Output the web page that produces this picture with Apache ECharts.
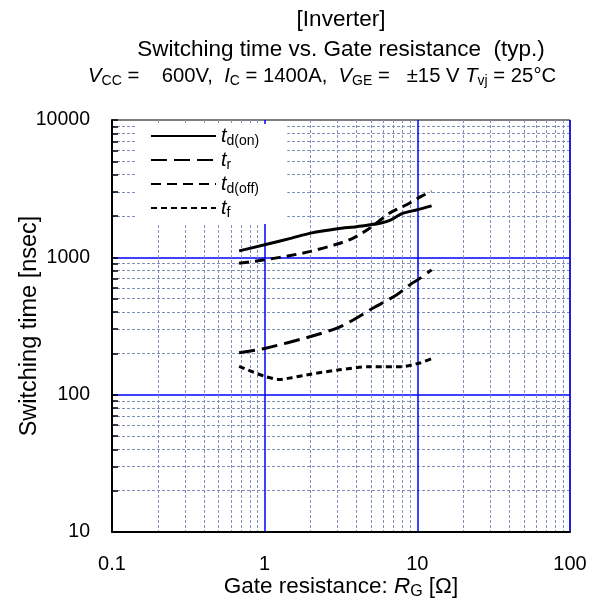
<!DOCTYPE html>
<html>
<head>
<meta charset="utf-8">
<script src="https://cdn.jsdelivr.net/npm/echarts@6/dist/echarts.min.js"></script>
<style>html,body{margin:0;padding:0;background:#fff;}#c{width:597px;height:599px;}</style>
</head>
<body>
<div id="c"></div>
<script>
// ---- data ----
const seriesNames = ['td(on)', 'tr', 'td(off)', 'tf'];
const rTdOn  = [0.68, 1.0, 1.5, 2.0, 3.0, 4.0, 4.9, 5.8, 6.6, 8.0, 10.0, 12.4];
const vTdOn  = [1115, 1234, 1380, 1500, 1615, 1670, 1725, 1780, 1857, 2090, 2220, 2370];
const rTr    = [0.68, 1.0, 2.0, 3.0, 3.8, 5.1, 7.3, 9.1, 10.3, 12.4];
const vTr    = [202, 217, 265, 306, 350, 426, 532, 641, 697, 811];
const rTdOff = [0.68, 1.0, 1.5, 2.0, 3.0, 3.8, 4.9, 6.6, 8.5, 10.6, 12.4];
const vTdOff = [907, 959, 1035, 1105, 1250, 1380, 1634, 2102, 2416, 2780, 3020];
const rTf    = [0.68, 1.0, 1.25, 1.5, 2.0, 3.0, 4.9, 7.9, 10.4, 12.4];
const vTf    = [161, 136, 129, 133, 141, 151, 160, 160, 170, 183];
const xTicks = [0.1, 1, 10, 100];
const yTicks = [10, 100, 1000, 10000];

const FONT = "'Liberation Sans', Arial, sans-serif";
const pair = (r, v) => r.map((x, i) => [x, v[i]]);
const subRich = {
  n: { fontSize: 20.3, fontFamily: FONT, color: '#000' },
  i: { fontSize: 20.3, fontFamily: FONT, fontStyle: 'italic', color: '#000' },
  s: { fontSize: 14, fontFamily: FONT, color: '#000', padding: [10, 0, 0, 0] }
};
const legendLabel = {
  'td(on)': '{t|t}{s|d(on)}',
  'tr': '{t|t}{s|r}',
  'td(off)': '{t|t}{s|d(off)}',
  'tf': '{t|t}{s|f}'
};
const dashes = { 'td(on)': 'solid', 'tr': [16, 7], 'td(off)': [10, 6], 'tf': [6, 4] };
const dataMap = {
  'td(on)': pair(rTdOn, vTdOn),
  'tr': pair(rTr, vTr),
  'td(off)': pair(rTdOff, vTdOff),
  'tf': pair(rTf, vTf)
};

const chart = echarts.init(document.getElementById('c'), null, { renderer: 'canvas' });
const series = seriesNames.map(n => ({
  name: n,
  type: 'line',
  data: dataMap[n],
  symbol: 'none',
  smooth: 0.25,
  lineStyle: { color: '#000', width: 3, type: dashes[n] },
  itemStyle: { color: '#000' },
  z: 5
}));

chart.setOption({
  animation: false,
  backgroundColor: '#fff',
  title: [
    { text: '[Inverter]', left: 336, top: 3, textAlign: 'center',
      textStyle: { fontSize: 22.5, fontWeight: 'normal', fontFamily: FONT, color: '#000' } },
    { text: 'Switching time vs. Gate resistance  (typ.)', left: 336, top: 33, textAlign: 'center',
      textStyle: { fontSize: 22.5, fontWeight: 'normal', fontFamily: FONT, color: '#000' } },
    { text: '{i|V}{s|CC}{n| =    600V,  }{i|I}{s|C}{n| = 1400A,  }{i|V}{s|GE}{n| =   ±15 V }{i|T}{s|vj}{n| = 25°C}',
      left: 83, top: 59,
      textStyle: { fontSize: 20.3, fontWeight: 'normal', fontFamily: FONT, color: '#000', rich: subRich } }
  ],
  grid: { left: 112, right: 27, top: 120, bottom: 67, outerBoundsMode: 'none', containLabel: false,
          show: true, borderColor: '#000', borderWidth: 1, backgroundColor: 'transparent' },
  legend: {
    data: seriesNames,
    orient: 'vertical',
    left: 135, top: 124,
    backgroundColor: '#fff',
    padding: [2, 28, 4, 15],
    itemWidth: 65, itemHeight: 20, itemGap: 2,
    itemStyle: { opacity: 0, color: 'transparent', borderWidth: 0 },
    formatter: n => legendLabel[n],
    textStyle: {
      rich: {
        t: { fontSize: 20, fontStyle: 'italic', fontFamily: FONT, color: '#000' },
        s: { fontSize: 14, fontFamily: FONT, color: '#000', padding: [10, 0, 0, 0] }
      }
    }
  },
  xAxis: {
    type: 'log', logBase: 10, min: 0.1, max: 100,
    name: '{n|Gate resistance: }{i|R}{s|G}{n| [Ω]}',
    nameLocation: 'middle', nameGap: 42, nameMoveOverlap: false,
    nameTextStyle: { rich: { n: { fontSize: 22.5, fontFamily: FONT, color: '#000' }, i: { fontSize: 22.5, fontFamily: FONT, fontStyle: 'italic', color: '#000' }, s: { fontSize: 16, fontFamily: FONT, color: '#000', padding: [10, 0, 0, 0] } } },
    axisLine: { show: true, onZero: false, lineStyle: { color: '#000', width: 2 } },
    axisTick: { show: false },
    axisLabel: { fontSize: 20, fontFamily: FONT, color: '#000', margin: 22,
      formatter: v => String(xTicks.find(t => Math.abs(Math.log10(t) - Math.log10(v)) < 1e-6) ?? v) },
    splitLine: { show: true, showMinLine: false, lineStyle: { color: '#0000ff', width: 1.5 } },
    minorTick: { show: false, splitNumber: 9 },
    minorSplitLine: { show: true, lineStyle: { color: '#7f8fb8', width: 1, type: [3, 2] } }
  },
  yAxis: {
    type: 'log', logBase: 10, min: 10, max: 10000,
    name: 'Switching time [nsec]',
    nameLocation: 'middle', nameGap: 70, nameRotate: 90, nameMoveOverlap: false,
    nameTextStyle: { fontSize: 23.5, fontFamily: FONT, color: '#000' },
    axisLine: { show: true, onZero: false, lineStyle: { color: '#000', width: 2 } },
    axisTick: { show: true, inside: true, length: 6, lineStyle: { color: '#000', width: 1.5 } },
    minorTick: { show: true, splitNumber: 9, length: 6, lineStyle: { color: '#000', width: 1.5 } },
    axisLabel: { fontSize: 19.5, fontFamily: FONT, color: '#000', margin: 22,
      formatter: v => String(yTicks.find(t => Math.abs(Math.log10(t) - Math.log10(v)) < 1e-6) ?? v) },
    splitLine: { show: true, showMinLine: false, showMaxLine: false, lineStyle: { color: '#0000ff', width: 1.5 } },
    minorSplitLine: { show: true, lineStyle: { color: '#7f8fb8', width: 1, type: [3, 2] } }
  },
  series: series
});
</script>
</body>
</html>
